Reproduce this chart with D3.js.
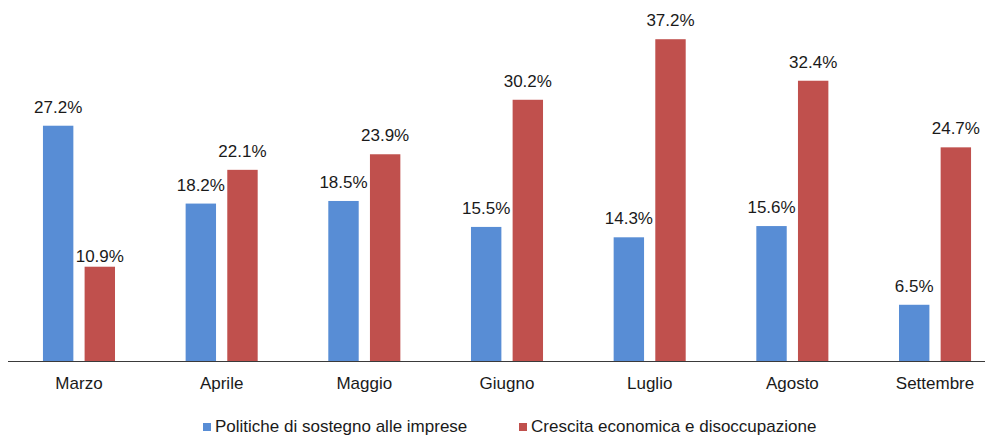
<!DOCTYPE html>
<html>
<head>
<meta charset="utf-8">
<script src="https://cdn.jsdelivr.net/npm/d3@7"></script>
<style>
  body { margin: 0; background: #fff; }
  text { font-family: "Liberation Sans", Arial, sans-serif; fill: #1a1a1a; }
</style>
</head>
<body>
<div id="chart"></div>
<script>
// months on the x axis
var months = ["Marzo", "Aprile", "Maggio", "Giugno", "Luglio", "Agosto", "Settembre"];

// the two series (percent)
var seriesNames = ["Politiche di sostegno alle imprese", "Crescita economica e disoccupazione"];
var imprese = [27.2, 18.2, 18.5, 15.5, 14.3, 15.6, 6.5];
var crescita = [10.9, 22.1, 23.9, 30.2, 37.2, 32.4, 24.7];

var colors = ["#588dd5", "#c0504d"];

var width = 985, height = 436;

var svg = d3.select("#chart")
  .append("svg")
    .attr("width", width)
    .attr("height", height);

// build rows for the grouped bars
var data = months.map(function(m, i) {
  return {month: m, values: [imprese[i], crescita[i]]};
});

var x0 = d3.scaleBand()
  .domain(months)
  .range([8, 1006])
  .paddingInner(0.495)
  .paddingOuter(0.245);

var x1 = d3.scaleBand()
  .domain([0, 1])
  .range([0, x0.bandwidth()])
  .paddingInner(0.27);

var y = d3.scaleLinear()
  .domain([0, 40])
  .range([361, 15]);

var groups = svg.append("g")
  .selectAll("g")
  .data(data)
  .enter().append("g")
    .attr("transform", function(d) { return "translate(" + x0(d.month) + ",0)"; });

var cells = groups.selectAll("g")
  .data(function(d, gi) { return d.values.map(function(v, k) { return {k: k, v: v, gi: gi}; }); })
  .enter().append("g");

cells.append("rect")
  .attr("x", function(d) { return x1(d.k); })
  .attr("y", function(d) { return y(d.v); })
  .attr("width", x1.bandwidth())
  .attr("height", function(d) { return y(0) - y(d.v); })
  .attr("fill", function(d) { return colors[d.k]; });

// value labels; the short red bar in March has its label sitting lower
cells.append("text")
  .attr("x", function(d) { return x1(d.k) + x1.bandwidth() / 2; })
  .attr("y", function(d) {
    var gap = (d.gi === 0 && d.k === 1) ? 5 : 13;
    return y(d.v) - gap;
  })
  .attr("text-anchor", "middle")
  .style("font-size", "17px")
  .text(function(d) { return d.v.toFixed(1) + "%"; });

// x axis
var xAxis = svg.append("g")
  .attr("transform", "translate(0," + y(0) + ")")
  .call(d3.axisBottom(x0).tickSize(0).tickPadding(16).tickSizeOuter(0));

xAxis.select(".domain")
  .attr("d", "M8,0.5H985")
  .attr("stroke", "#3a3a3a")
  .attr("stroke-width", 1.2);

xAxis.selectAll("text")
  .style("font-size", "17px")
  .style("font-family", "Liberation Sans, Arial, sans-serif")
  .attr("fill", "#1a1a1a");

// legend (kept just inside the bottom edge)
var legendX = [203, 519];
var legend = svg.append("g")
  .selectAll("g")
  .data(seriesNames)
  .enter().append("g")
    .attr("transform", function(d, i) { return "translate(" + legendX[i] + ",423)"; });

legend.append("rect")
  .attr("width", 8)
  .attr("height", 8)
  .attr("fill", function(d, i) { return colors[i]; });

legend.append("text")
  .attr("x", 12)
  .attr("y", 9)
  .style("font-size", "17px")
  .text(function(d) { return d; });
</script>
</body>
</html>
